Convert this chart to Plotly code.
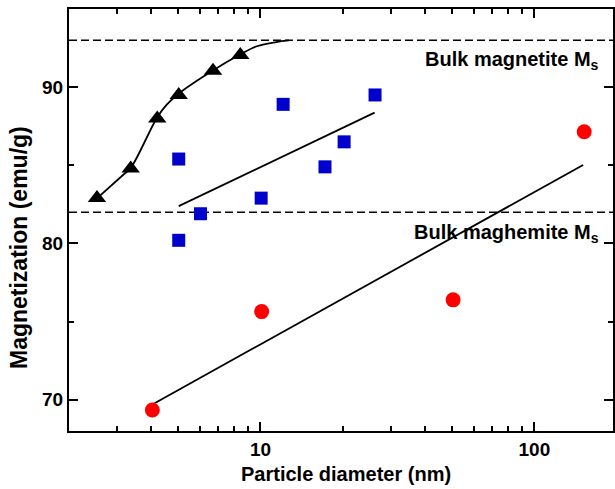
import numpy as np
import plotly.graph_objects as go

# ---- data ----
tri_x = [2.53, 3.36, 4.2, 5.03, 6.71, 8.44]
tri_y = [82.9, 84.8, 88.0, 89.5, 91.05, 92.05]
curve_x = [2.53, 3.15, 3.36, 4.2, 4.54, 5.0, 6.7, 8.39, 9.64, 11.4, 12.7]
curve_y = [82.88, 84.38, 84.83, 88.08, 88.87, 89.55, 91.06, 92.07, 92.6, 92.88, 92.99]

sq_x = [5.03, 5.03, 6.04, 10.06, 12.1, 17.2, 20.2, 26.2]
sq_y = [85.4, 80.2, 81.9, 82.9, 88.9, 84.9, 86.5, 89.5]
sq_fit_x = [5.03, 26.1]
sq_fit_y = [82.39, 88.37]

circ_x = [4.03, 10.1, 50.5, 152]
circ_y = [69.34, 75.64, 76.39, 87.15]
circ_fit_x = [4.03, 150.6]
circ_fit_y = [69.7, 85.02]

bulk_levels = [93.0, 82.0]
bulk_labels = ["Bulk magnetite M<sub>s</sub>", "Bulk maghemite M<sub>s</sub>"]

x_major = [10, 100]
x_minor = [2, 3, 4, 5, 6, 7, 8, 9, 20, 30, 40, 50, 60, 70, 80, 90, 200]
y_major = [70, 80, 90]
y_minor = [75, 85]

FONT = "Liberation Sans, Arial, sans-serif"

fig = go.Figure()
fig.add_trace(go.Scatter(x=curve_x, y=curve_y, mode="lines",
                         line=dict(color="black", width=1.8, shape="spline", smoothing=1.0),
                         hoverinfo="skip"))
fig.add_trace(go.Scatter(x=tri_x, y=tri_y, mode="markers",
                         marker=dict(symbol="triangle-up", size=16, color="black")))
fig.add_trace(go.Scatter(x=sq_fit_x, y=sq_fit_y, mode="lines",
                         line=dict(color="black", width=1.8)))
fig.add_trace(go.Scatter(x=sq_x, y=sq_y, mode="markers",
                         marker=dict(symbol="square", size=13, color="#0000CC")))
fig.add_trace(go.Scatter(x=circ_fit_x, y=circ_fit_y, mode="lines",
                         line=dict(color="black", width=1.8)))
fig.add_trace(go.Scatter(x=circ_x, y=circ_y, mode="markers",
                         marker=dict(symbol="circle", size=15, color="#FF0000")))

for lvl in bulk_levels:
    fig.add_shape(type="line", xref="paper", x0=0, x1=1, yref="y", y0=lvl, y1=lvl,
                  line=dict(color="black", width=1.5, dash="8px,4px"), layer="below")

ann_y = [0.879, 0.467]
for txt, yy in zip(bulk_labels, ann_y):
    fig.add_annotation(text=txt, xref="paper", yref="paper", x=0.978, y=yy,
                       xanchor="right", yanchor="middle", showarrow=False,
                       font=dict(family=FONT, size=20, color="black", weight=700))

fig.add_annotation(text="Particle diameter (nm)", xref="paper", yref="paper",
                   x=0.509, y=-0.102, xanchor="center", yanchor="middle", showarrow=False,
                   font=dict(family=FONT, size=20, color="black", weight=700))
fig.add_annotation(text="Magnetization (emu/g)", xref="paper", yref="paper",
                   x=-0.0916, y=0.434, xanchor="center", yanchor="middle", showarrow=False,
                   textangle=-90,
                   font=dict(family=FONT, size=23, color="black", weight=700))

fig.update_xaxes(type="log", range=[np.log10(2.0), 2.287],
                 showline=True, linecolor="black", linewidth=2, mirror="ticks",
                 ticks="inside", ticklen=9, tickwidth=2, tickcolor="black",
                 tickmode="array", tickvals=x_major, ticktext=[str(v) for v in x_major],
                 minor=dict(tickmode="array", tickvals=x_minor, ticks="inside",
                            ticklen=5, tickwidth=1.5, tickcolor="black", showgrid=False),
                 showgrid=False, zeroline=False,
                 tickfont=dict(family=FONT, size=19, color="black", weight=700))
fig.update_yaxes(range=[68, 95],
                 showline=True, linecolor="black", linewidth=2, mirror="ticks",
                 ticks="inside", ticklen=9, tickwidth=2, tickcolor="black",
                 tickmode="array", tickvals=y_major, ticktext=[str(v) for v in y_major],
                 minor=dict(tickmode="array", tickvals=y_minor, ticks="inside",
                            ticklen=5, tickwidth=1.5, tickcolor="black", showgrid=False),
                 showgrid=False, zeroline=False,
                 tickfont=dict(family=FONT, size=19, color="black", weight=700))

fig.update_layout(width=615, height=489, margin=dict(l=69, r=0, t=9, b=58),
                  plot_bgcolor="white", paper_bgcolor="white", showlegend=False)

fig.write_html("out.html")
